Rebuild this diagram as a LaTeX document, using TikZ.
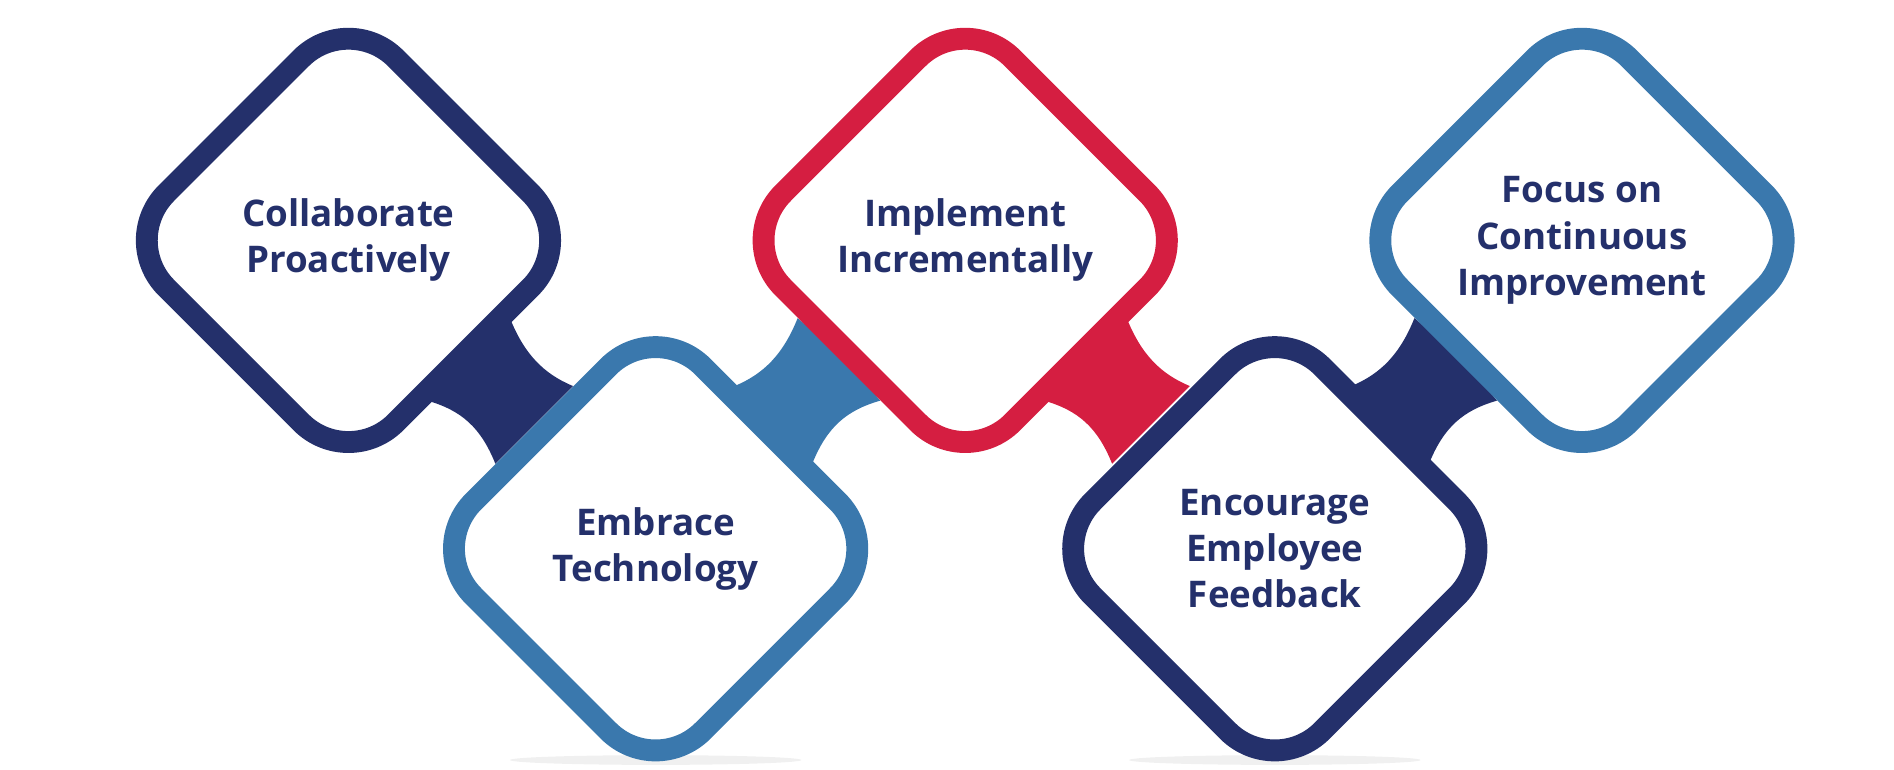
\documentclass[tikz,border=0pt]{standalone}
\usepackage{fontspec}
\setmainfont{Open Sans}
\usetikzlibrary{shapes.geometric}
\definecolor{navy}{HTML}{24306B}
\definecolor{steel}{HTML}{3A78AD}
\definecolor{crimson}{HTML}{D51E41}
\tikzset{
  stepdiamond/.style={diamond, aspect=1, minimum size=3.85cm, inner sep=0pt, draw=#1,
    line width=0.18cm, rounded corners=0.55cm, fill=white, align=center,
    text=navy, font=\fontsize{8.6}{10.8}\selectfont\bfseries},
  neck/.style={fill=#1, draw=none}
}
\begin{document}
\begin{tikzpicture}[x=0.01cm, y=-0.01cm]
	\useasboundingbox (0,0) rectangle (1560,634);
	% soft shadows
	\fill[black!6] (540,626) ellipse (120 and 4);
	\fill[black!6] (1050,626) ellipse (120 and 4);
	% necks between the diamonds
	\foreach \dx/\col in {0/navy, 508/crimson}
		\fill[neck=\col, shift={(\dx,0)}] (380,296) -- (420,262) .. controls (432,292) and (448,308) .. (472,318)
			-- (440,350) -- (408,382) .. controls (396,352) and (380,338) .. (352,330) -- cycle;
	\foreach \dx/\col in {0/steel, 508/navy}
		\fill[neck=\col, shift={(\dx,0)}] (697,296) -- (657,262) .. controls (645,292) and (629,308) .. (605,318)
			-- (637,350) -- (669,382) .. controls (681,352) and (697,338) .. (725,330) -- cycle;
	% diamonds
	\node[stepdiamond=navy] (collab) at (287,198) {Collaborate\\Proactively};
	\node[stepdiamond=steel] (embrace) at (540,452) {Embrace\\Technology};
	\node[stepdiamond=crimson] (implement) at (795,198) {Implement\\Incrementally};
	\node[stepdiamond=navy] (encourage) at (1050,452) {Encourage\\Employee\\Feedback};
	\node[stepdiamond=steel] (focus) at (1303,198) {Focus on\\Continuous\\Improvement};
\end{tikzpicture}
\end{document}
